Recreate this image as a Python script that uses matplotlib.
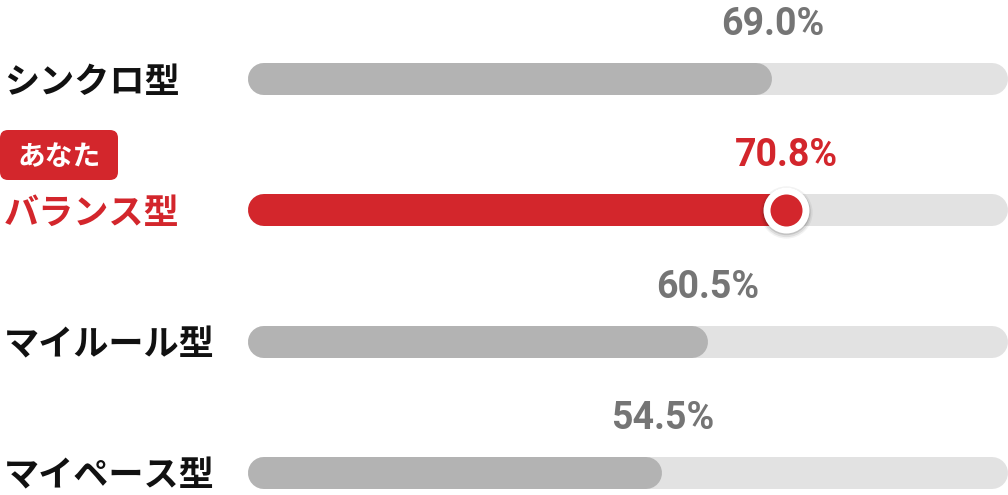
import matplotlib
matplotlib.use("Agg")
import matplotlib.pyplot as plt
import matplotlib.transforms as mtransforms
from matplotlib.patches import FancyBboxPatch

categories = ["シンクロ型", "バランス型", "マイルール型", "マイペース型"]
values = [69.0, 70.8, 60.5, 54.5]
value_labels = ["69.0%", "70.8%", "60.5%", "54.5%"]
highlight_index = 1
badge_text = "あなた"

RED = "#d3262c"
TRACK = "#e2e2e2"
FILL = "#b3b3b3"
GREY_TXT = "#757575"
BLACK = "#111111"

W, H, DPI = 1008, 495, 100
fig = plt.figure(figsize=(W / DPI, H / DPI), dpi=DPI)
fig.patch.set_facecolor("white")

x0_px, x1_px = 248, 1008
ax = fig.add_axes([x0_px / W, 0, (x1_px - x0_px) / W, 1])
ax.set_xlim(0, 100)
row_px = 131.0
top_px = 79.5
ax.set_ylim((H - top_px) / row_px, -top_px / row_px)
ax.axis("off")

px_per_unit = (x1_px - x0_px) / 100.0
bar_h_px = 32
lw_pt = bar_h_px * 72 / DPI
r = (bar_h_px / 2) / px_per_unit
pt = 72 / DPI

for i, (cat, v, lab) in enumerate(zip(categories, values, value_labels)):
    hl = i == highlight_index
    col = RED if hl else FILL
    ax.plot([r, 100 - r], [i, i], color=TRACK, lw=lw_pt, solid_capstyle="round", zorder=1)
    ax.plot([r, v - r], [i, i], color=col, lw=lw_pt, solid_capstyle="round", zorder=2)
    ax.annotate(lab, xy=(v, i), xytext=(0, 44 * pt), textcoords="offset points",
                ha="center", va="baseline", fontsize=27, fontweight=600,
                family=["Roboto", "DejaVu Sans"],
                color=RED if hl else GREY_TXT, zorder=5)
    trans = mtransforms.blended_transform_factory(fig.transFigure, ax.transData)
    ax.annotate(cat, xy=(4 / W, i), xycoords=trans, xytext=(0, -3 * pt),
                textcoords="offset points", ha="left", va="center", fontsize=25.3,
                fontweight="bold", family=["Noto Sans CJK JP", "DejaVu Sans"],
                color=RED if hl else BLACK, annotation_clip=False)
    if hl:
        for dy, a, s in [(2, 0.05, 1420), (1.5, 0.08, 1260), (1, 0.12, 1160)]:
            ax.scatter([v], [i + dy / row_px], s=s, color="black", alpha=a, lw=0, zorder=3)
        ax.scatter([v], [i], s=(46 * pt) ** 2, color="white", lw=0, zorder=4)
        ax.scatter([v], [i], s=(32 * pt) ** 2, color=RED, lw=0, zorder=5)

# badge
bx0, by0, bw, bh = 0, 130, 118, 50
badge = FancyBboxPatch((bx0 / W, 1 - (by0 + bh) / H), bw / W, bh / H,
                       boxstyle="round,pad=0,rounding_size=%f" % (8 / W),
                       mutation_aspect=W / H,
                       transform=fig.transFigure, facecolor=RED, edgecolor="none")
fig.patches.append(badge)
fig.text((bx0 + bw / 2) / W, 1 - (by0 + bh / 2 + 2) / H, badge_text, ha="center", va="center",
         fontsize=20, fontweight="bold", family=["Noto Sans CJK JP", "DejaVu Sans"],
         color="white")

fig.savefig("out.png", dpi=DPI, facecolor="white")
